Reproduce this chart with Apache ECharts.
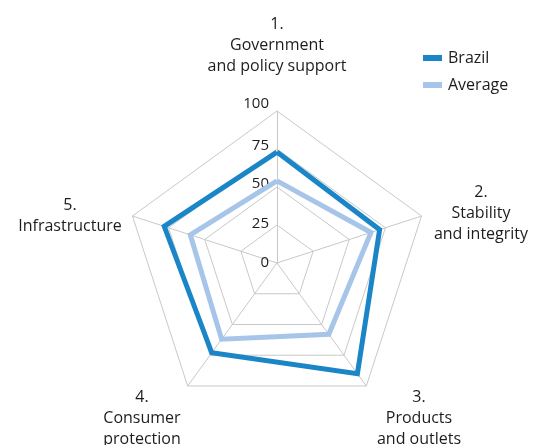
<!DOCTYPE html>
<html>
<head>
<meta charset="utf-8">
<style>
  html, body { margin: 0; padding: 0; background: #fff; }
  #chart { width: 533px; height: 445px; }
</style>
<script src="https://cdn.jsdelivr.net/npm/echarts@6/dist/echarts.min.js"></script>
</head>
<body>
<div id="chart"></div>
<script>
// Pillar names, clockwise from the top
const categories = [
  '1.\nGovernment\nand policy support',
  '2.\nStability\nand integrity',
  '3.\nProducts\nand outlets',
  '4.\nConsumer\nprotection',
  '5.\nInfrastructure'
];
const seriesNames = ['Brazil', 'Average'];
const brazil = [73, 71, 90, 73, 78];
const average = [54, 65, 58, 62, 60];
const scaleMax = 100;

// Label anchor points (block centres) for the pillar names
const nameAnchors = [[277, 45], [481, 213], [419, 418], [142, 418], [70, 216]];

const FONT = '"Open Sans", "Noto Sans", sans-serif';
const TEXT = '#1f1c1d';
const GRID = '#c9c9c9';

// ECharts lays radar indicators out anticlockwise; walk the pillars in
// reverse (keeping the first on top) so they read clockwise.
const order = [0].concat(categories.map((_, i) => i).slice(1).reverse());
const pick = arr => order.map(i => arr[i]);

// Small upward nudges for the scale numbers
const tickNudge = { 0: 0, 25: 3, 50: 7, 75: 7, 100: 14 };
const tickRich = {};
Object.keys(tickNudge).forEach(k => {
  tickRich['t' + k] = {
    fontFamily: '"Open Sans", "Noto Sans", sans-serif',
    fontSize: 15,
    color: TEXT,
    padding: [0, 0, tickNudge[k], 0]
  };
});

const chart = echarts.init(document.getElementById('chart'), null, { renderer: 'canvas' });

chart.setOption({
  backgroundColor: '#ffffff',
  animation: false,
  legend: {
    orient: 'vertical',
    left: 418,
    top: 45,
    icon: 'rect',
    itemWidth: 19,
    itemHeight: 6,
    itemGap: 11,
    textStyle: { fontFamily: FONT, fontSize: 16, color: TEXT, padding: [0, 0, 0, 1] },
    data: seriesNames
  },
  radar: {
    center: [277, 263],
    radius: 152,
    startAngle: 90,
    splitNumber: 4,
    shape: 'polygon',
    axisName: { show: false },
    indicator: pick(categories).map((name, i) => ({
      name: name,
      min: 0,
      max: scaleMax,
      axisLabel: { show: i === 0 }
    })),
    axisLine: { lineStyle: { color: GRID, width: 1 } },
    splitLine: { lineStyle: { color: GRID, width: 1 } },
    splitArea: { show: false },
    axisTick: { show: false },
    axisLabel: {
      show: false,
      margin: 8,
      formatter: v => '{t' + v + '|' + v + '}',
      rich: tickRich
    }
  },
  graphic: categories.map((name, i) => ({
    type: 'text',
    x: nameAnchors[i][0],
    y: nameAnchors[i][1],
    style: {
      text: name,
      align: 'center',
      verticalAlign: 'middle',
      font: '16px ' + FONT,
      lineHeight: 21,
      fill: TEXT
    }
  })),
  series: [{
    type: 'radar',
    symbol: 'none',
    data: [
      {
        name: seriesNames[1],
        value: pick(average),
        lineStyle: { color: '#a6c5e9', width: 5, join: 'miter' },
        itemStyle: { color: '#a6c5e9' }
      },
      {
        name: seriesNames[0],
        value: pick(brazil),
        lineStyle: { color: '#1a86c8', width: 5, join: 'miter' },
        itemStyle: { color: '#1a86c8' }
      }
    ]
  }]
});
</script>
</body>
</html>
